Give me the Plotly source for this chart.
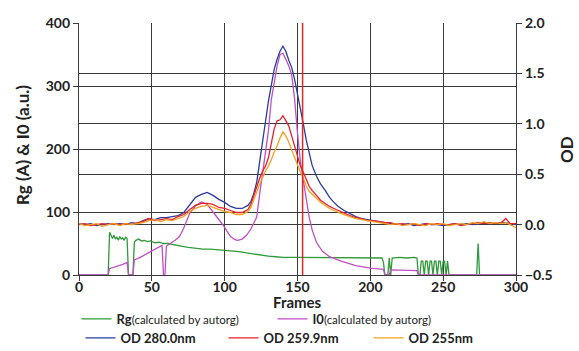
import plotly.graph_objects as go

# ---------------- data ----------------
od_frames = [0, 4, 8, 12, 16, 20, 24, 28, 32, 36, 40, 44, 48, 52, 56, 60, 64, 68, 72, 76,
             80, 84, 88, 92, 96, 100, 104, 108, 112, 116, 118, 120, 122, 124, 126, 128, 130,
             132, 134, 136, 138, 140, 142, 144, 146, 148, 150, 152, 154, 156, 158, 160, 163,
             166, 169, 172, 175, 178, 182, 186, 190, 194, 198, 202, 206, 210, 214, 218, 222,
             226, 230, 234, 238, 242, 246, 250, 254, 258, 262, 266, 270, 274, 278, 282, 286,
             290, 293, 296, 300]

od_280 = [0.01, 0.00, 0.01, -0.01, 0.00, 0.01, 0.00, 0.01, 0.00, 0.02, 0.01, 0.04, 0.06, 0.05,
          0.07, 0.07, 0.08, 0.09, 0.12, 0.20, 0.27, 0.30, 0.32, 0.29, 0.25, 0.22, 0.18, 0.16,
          0.16, 0.19, 0.23, 0.31, 0.42, 0.62, 0.80, 1.02, 1.22, 1.40, 1.54, 1.64, 1.72, 1.77,
          1.72, 1.63, 1.56, 1.44, 1.30, 1.16, 1.00, 0.84, 0.70, 0.59, 0.48, 0.40, 0.34, 0.27,
          0.22, 0.18, 0.14, 0.11, 0.08, 0.06, 0.05, 0.04, 0.03, 0.02, 0.01, 0.01, 0.00, 0.01,
          -0.01, 0.00, 0.01, 0.00, 0.00, -0.01, 0.00, 0.01, 0.00, 0.01, 0.00, 0.01, 0.02, 0.01,
          0.01, 0.02, 0.02, 0.01, 0.00]

od_2599 = [0.00, 0.01, -0.01, 0.00, 0.01, 0.00, 0.01, 0.00, 0.01, 0.00, 0.02, 0.03, 0.06, 0.04,
           0.05, 0.06, 0.05, 0.08, 0.10, 0.15, 0.19, 0.21, 0.21, 0.20, 0.17, 0.16, 0.14, 0.12,
           0.12, 0.15, 0.20, 0.29, 0.37, 0.46, 0.53, 0.58, 0.66, 0.82, 0.95, 1.03, 1.04, 1.08,
           1.03, 0.98, 0.88, 0.78, 0.66, 0.58, 0.52, 0.44, 0.38, 0.34, 0.29, 0.24, 0.21, 0.18,
           0.16, 0.14, 0.12, 0.09, 0.07, 0.06, 0.04, 0.04, 0.03, 0.02, 0.02, 0.00, 0.01, 0.00,
           0.01, -0.01, 0.01, 0.00, 0.01, 0.00, 0.00, 0.01, -0.01, 0.00, 0.01, 0.02, 0.01, 0.02,
           0.01, 0.02, 0.06, 0.01, 0.01]

od_255 = [0.01, -0.01, 0.00, 0.01, -0.02, 0.00, 0.01, -0.01, 0.01, 0.00, 0.01, 0.02, 0.04, 0.05,
          0.03, 0.05, 0.04, 0.06, 0.08, 0.13, 0.16, 0.18, 0.19, 0.17, 0.15, 0.13, 0.12, 0.10,
          0.10, 0.13, 0.17, 0.24, 0.32, 0.40, 0.47, 0.53, 0.58, 0.64, 0.72, 0.78, 0.86, 0.92,
          0.88, 0.82, 0.74, 0.66, 0.58, 0.52, 0.46, 0.38, 0.33, 0.30, 0.26, 0.22, 0.19, 0.16,
          0.14, 0.12, 0.10, 0.08, 0.06, 0.05, 0.04, 0.03, 0.02, 0.01, 0.00, 0.01, -0.01, 0.00,
          0.01, 0.00, -0.01, 0.01, 0.00, 0.01, -0.01, 0.00, 0.01, 0.00, 0.02, 0.01, 0.03, 0.01,
          0.02, 0.01, 0.02, 0.00, -0.03]

rg_frames = [0, 20, 21, 22, 23, 24, 25, 26, 27, 28, 29, 30, 31, 32, 33, 34, 37, 38, 39, 41, 43,
             45, 47, 49, 52, 55, 58, 61, 64, 67, 70, 75, 80, 85, 90, 95, 100, 105, 110, 115, 120,
             125, 130, 135, 140, 150, 160, 170, 180, 190, 200, 208, 209, 210, 212, 213, 214, 215,
             220, 225, 230, 232, 233, 234, 235, 236, 237, 238, 239, 240, 241, 242, 243, 244, 245,
             246, 247, 248, 249, 250, 251, 252, 253, 254, 273, 274, 275, 300]
rg_values = [0, 0, 68, 62, 58, 63, 57, 60, 55, 61, 57, 59, 55, 60, 58, 0, 0, 52, 55, 57, 54,
             55, 53, 54, 51, 52, 50, 50, 49, 47, 46, 44, 42, 41, 41, 40, 40, 38, 37, 35, 33,
             31, 30, 29, 28, 28, 28, 28, 27, 28, 27, 27, 20, 0, 0, 27, 0, 27,
             28, 27, 28, 27, 0, 0, 22, 22, 0, 22, 22, 0, 22, 22, 0, 22, 22,
             0, 22, 22, 0, 22, 22, 0, 22, 0, 0, 50, 0, 0]

i0_frames = [0, 20, 21, 24, 27, 30, 33, 34, 37, 38, 42, 46, 50, 54, 57, 58, 59, 60, 63, 66, 69,
             72, 76, 80, 84, 88, 92, 96, 99, 102, 104, 107, 109, 112, 115, 118, 120, 122, 124,
             126, 128, 130, 132, 134, 136, 138, 140, 142, 144, 146, 148, 150, 152, 154, 156, 158,
             160, 163, 167, 172, 180, 190, 200, 209, 210, 213, 214, 220, 230, 232, 233, 300]
i0_values = [0, 0, 10, 12, 14, 17, 20, 0, 0, 24, 28, 33, 38, 44, 47, 0, 0, 46, 50, 55, 61,
             75, 98, 110, 116, 112, 100, 88, 79, 68, 61, 56, 55, 57, 63, 73, 82, 92, 128,
             160, 188, 228, 278, 305, 332, 350, 352, 342, 332, 318, 280, 225, 180, 150, 120, 92,
             72, 52, 38, 29, 22, 15, 11, 9, 0, 0, 8, 8, 7, 7, 0, 0]

selected_frame = 153.5

x_ticks = [0, 50, 100, 150, 200, 250, 300]
left_ticks = [0, 100, 200, 300, 400]
right_ticks = [-0.5, 0.0, 0.5, 1.0, 1.5, 2.0]

x_title = "Frames"
y_title = "Rg (A) &amp; I0 (a.u.)"
y2_title = "OD"

# ---------------- styling ----------------
FONT = "Lato"
GRID = "#3a3a3a"
C_RG = "#2f9a3a"
C_I0 = "#c050c4"
C_280 = "#2b3c9e"
C_2599 = "#e8202a"
C_255 = "#f5a020"
W, H = 579, 351
ML, MR, MT, MB = 79, 63, 23, 76
PW, PH = W - ML - MR, H - MT - MB

fig = go.Figure()
small = "<span style='font-size:11.5px;font-weight:normal'>(calculated by autorg)</span>"
fig.add_trace(go.Scatter(x=rg_frames, y=rg_values, mode="lines", name="<b>Rg</b>" + small,
                         line=dict(color=C_RG, width=1.3), legend="legend"))
fig.add_trace(go.Scatter(x=i0_frames, y=i0_values, mode="lines", name="<b>I0</b>" + small,
                         line=dict(color=C_I0, width=1.3), legend="legend2"))
fig.add_trace(go.Scatter(x=od_frames, y=od_280, mode="lines", name="<b>OD 280.0nm</b>",
                         line=dict(color=C_280, width=1.3), yaxis="y2", legend="legend3"))
fig.add_trace(go.Scatter(x=od_frames, y=od_2599, mode="lines", name="<b>OD 259.9nm</b>",
                         line=dict(color=C_2599, width=1.3), yaxis="y2", legend="legend4"))
fig.add_trace(go.Scatter(x=od_frames, y=od_255, mode="lines", name="<b>OD 255nm</b>",
                         line=dict(color=C_255, width=1.3), yaxis="y2", legend="legend5"))

fig.add_shape(type="line", xref="x", yref="paper", x0=selected_frame, x1=selected_frame,
              y0=0, y1=1, line=dict(color="#e02828", width=1.5))


def leg(text_x, row_y):
    return dict(orientation="h", xref="container", yref="container",
                x=(text_x - 39.5) / W, xanchor="left", y=(H - row_y) / H, yanchor="middle",
                itemwidth=30, font=dict(family=FONT, size=13, color="#222"),
                bgcolor="rgba(0,0,0,0)")


def px_x(px):
    return (px - ML) / PW


def px_y(py):
    return (H - MB - py) / PH


axfont = dict(family=FONT, size=14, color="#222", weight="bold")
titlefont = dict(family=FONT, size=17, color="#222", weight="bold")
axis_common = dict(showgrid=True, gridcolor=GRID, gridwidth=1.3, showline=True, linecolor=GRID,
                   linewidth=1.3, ticks="outside", ticklen=5, tickcolor=GRID, tickfont=axfont,
                   zeroline=False, automargin=False)
fig.update_layout(
    width=W, height=H,
    margin=dict(l=ML, r=MR, t=MT, b=MB, autoexpand=False),
    paper_bgcolor="white", plot_bgcolor="white",
    font=dict(family=FONT, color="#222"),
    xaxis=dict(range=[0, 300], tickvals=x_ticks, ticklabelstandoff=-6, **axis_common),
    yaxis=dict(range=[0, 400], tickvals=left_ticks, **axis_common),
    yaxis2=dict(range=[-0.5, 2.0], tickvals=right_ticks, tickformat=".1f", overlaying="y",
                side="right", **axis_common),
    legend=leg(116, 319),
    legend2=leg(312, 319),
    legend3=leg(120, 338),
    legend4=leg(263, 338),
    legend5=leg(408, 338),
    showlegend=True,
    annotations=[
        dict(text=x_title, xref="paper", yref="paper", x=0.5, y=px_y(302), showarrow=False,
             xanchor="center", yanchor="middle",
             font=dict(family=FONT, size=15, color="#222", weight="bold")),
        dict(text=y_title, xref="paper", yref="paper", x=px_x(22), y=px_y(145), showarrow=False,
             textangle=-90, xanchor="center", yanchor="middle", font=titlefont),
        dict(text=y2_title, xref="paper", yref="paper", x=px_x(566), y=px_y(150), showarrow=False,
             textangle=-90, xanchor="center", yanchor="middle", font=titlefont),
    ],
)

fig.write_html("out.html", config={"displayModeBar": False},
               post_script="document.body.style.margin='0';")
